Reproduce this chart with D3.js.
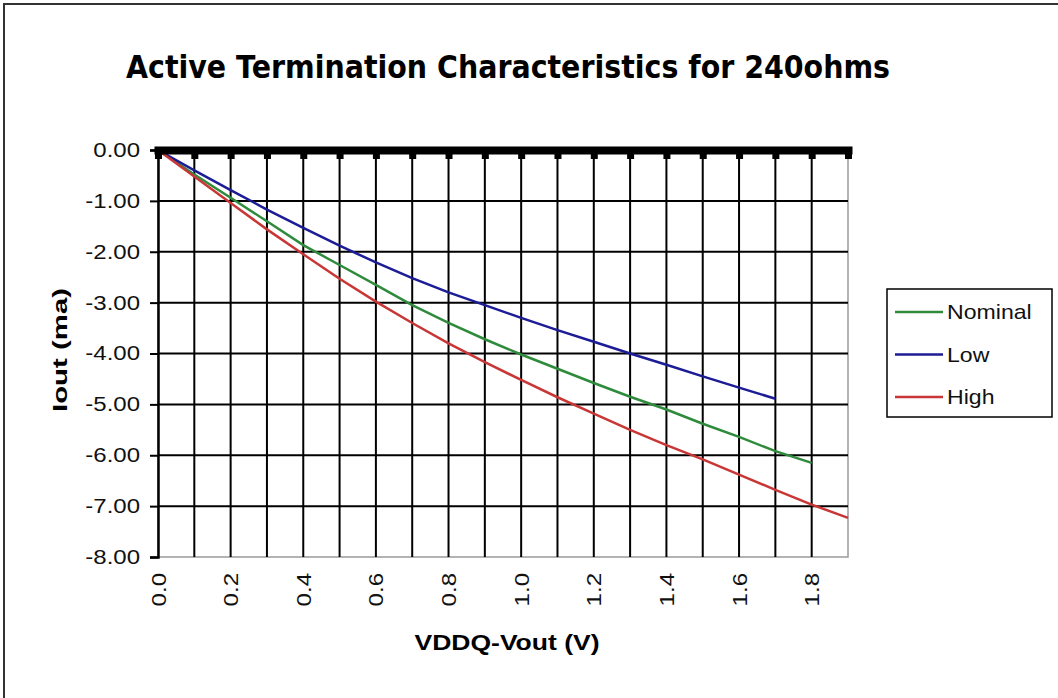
<!DOCTYPE html>
<html>
<head>
<meta charset="utf-8">
<script src="https://cdn.jsdelivr.net/npm/d3@7"></script>
<style>
  body{margin:0;background:#fff;}
  text{font-family:"Liberation Sans", Arial, sans-serif;}
</style>
</head>
<body>
<svg id="chart" width="1058" height="698"></svg>
<script>
// categories (VDDQ-Vout in volts)
const voltages = [0.0, 0.1, 0.2, 0.3, 0.4, 0.5, 0.6, 0.7, 0.8, 0.9,
                  1.0, 1.1, 1.2, 1.3, 1.4, 1.5, 1.6, 1.7, 1.8, 1.9];
// Iout (ma) per series
const nominal = [0, -0.48, -0.94, -1.40, -1.87, -2.26, -2.65, -3.05, -3.40, -3.72,
                 -4.02, -4.30, -4.58, -4.85, -5.10, -5.38, -5.64, -5.92, -6.15];
const low = [0, -0.40, -0.79, -1.17, -1.53, -1.88, -2.21, -2.52, -2.80, -3.05,
             -3.30, -3.54, -3.77, -4.00, -4.22, -4.45, -4.67, -4.89];
const high = [0, -0.52, -1.04, -1.56, -2.05, -2.53, -2.98, -3.40, -3.80, -4.17,
              -4.52, -4.86, -5.18, -5.50, -5.80, -6.08, -6.38, -6.68, -6.97, -7.23];
const xTickLabels = [0.0, 0.2, 0.4, 0.6, 0.8, 1.0, 1.2, 1.4, 1.6, 1.8];
const yTicks = [0, -1, -2, -3, -4, -5, -6, -7, -8];
const seriesNames = ['Nominal', 'Low', 'High'];
const seriesColors = ['#2f8b3c', '#1c1c96', '#c93636'];

const svg = d3.select('#chart');
const plot = {left: 158, right: 848, top: 150, bottom: 557};

let x = d3.scaleLinear()
          .domain([0, 1.9])
          .range([plot.left, plot.right]);
let y = d3.scaleLinear()
          .domain([0, -8])
          .range([plot.top, plot.bottom]);

// stretch text sideways, the source fonts render wider than Liberation
function stretch(sel, k){
  sel.each(function(){
    let w = this.getComputedTextLength();
    d3.select(this)
      .attr('textLength', w*k)
      .attr('lengthAdjust', 'spacingAndGlyphs');
  });
}

// outer frame
svg.append('rect')
   .attr('x', 4).attr('y', 4)
   .attr('width', 1100).attr('height', 800)
   .attr('fill', 'none')
   .attr('stroke', '#333')
   .attr('stroke-width', 2);

// title
svg.append('text')
   .attr('x', 126)
   .attr('y', 78)
   .style('font-family', '"DejaVu Sans", Verdana, sans-serif')
   .attr('font-weight', 'bold')
   .attr('font-size', '32px')
   .attr('textLength', 764)
   .attr('lengthAdjust', 'spacingAndGlyphs')
   .text('Active Termination Characteristics for 240ohms');

// plot border
svg.append('rect')
   .attr('x', plot.left).attr('y', plot.top)
   .attr('width', plot.right - plot.left)
   .attr('height', plot.bottom - plot.top)
   .attr('fill', 'none')
   .attr('stroke', '#9a9a9a')
   .attr('stroke-width', 1.5);

// grid
svg.append('g')
   .selectAll('line')
   .data(voltages.filter(v => v > 0 && v < 1.9))
   .enter()
   .append('line')
   .attr('x1', d => x(d)).attr('x2', d => x(d))
   .attr('y1', plot.top).attr('y2', plot.bottom)
   .attr('stroke', '#000')
   .attr('stroke-width', 2);
svg.append('g')
   .selectAll('line')
   .data(yTicks.filter(v => v < 0 && v > -8))
   .enter()
   .append('line')
   .attr('x1', plot.left).attr('x2', plot.right)
   .attr('y1', d => y(d)).attr('y2', d => y(d))
   .attr('stroke', '#000')
   .attr('stroke-width', 2);

// series
const seriesData = [nominal, low, high];
let lineFunction = d3.line()
                     .x((d, i) => x(voltages[i]))
                     .y(d => y(d));
seriesData.forEach((data, k) => {
  svg.append('path')
     .attr('d', lineFunction(data))
     .attr('fill', 'none')
     .attr('stroke', seriesColors[k])
     .attr('stroke-width', 2.5);
});

// y axis
let yAxis = svg.append('g')
               .attr('transform', `translate(${plot.left},0)`)
               .call(d3.axisLeft(y)
                       .tickValues(yTicks)
                       .tickSize(8)
                       .tickPadding(10)
                       .tickFormat(d => d.toFixed(2)));
yAxis.attr('font-family', null);
yAxis.select('.domain').attr('stroke', '#000').attr('stroke-width', 2.5);
yAxis.selectAll('.tick line').attr('stroke', '#000').attr('stroke-width', 2);
yAxis.selectAll('text')
     .attr('font-size', '20px')
     .attr('fill', '#111')
     .call(stretch, 1.2);

// x axis drawn as a thick bar across the top (crosses at 0)
let xAxis = svg.append('g')
               .attr('transform', `translate(0,${plot.top})`)
               .call(d3.axisBottom(x)
                       .tickValues(voltages)
                       .tickSize(9)
                       .tickSizeOuter(0)
                       .tickFormat(''));
xAxis.select('.domain')
     .attr('stroke', '#000')
     .attr('stroke-width', 8)
     .attr('stroke-linecap', 'square');
xAxis.selectAll('.tick line').attr('stroke', '#000').attr('stroke-width', 7);

// x tick labels along the bottom, rotated
let xLabels = svg.append('g')
                 .attr('transform', `translate(0,${plot.bottom})`)
                 .call(d3.axisBottom(x)
                         .tickValues(xTickLabels)
                         .tickSize(0)
                         .tickFormat(d => d.toFixed(1)));
xLabels.select('.domain').remove();
xLabels.attr('font-family', null);
xLabels.selectAll('text')
       .attr('font-size', '20px')
       .attr('fill', '#111')
       .attr('transform', 'rotate(-90)')
       .attr('text-anchor', 'end')
       .attr('x', -16)
       .attr('y', 0)
       .attr('dy', '0.35em')
       .call(stretch, 1.2);

// axis titles
svg.append('text')
   .attr('x', 507)
   .attr('y', 650)
   .attr('text-anchor', 'middle')
   .attr('font-weight', 'bold')
   .attr('font-size', '22px')
   .attr('textLength', 185)
   .attr('lengthAdjust', 'spacingAndGlyphs')
   .text('VDDQ-Vout (V)');
svg.append('text')
   .attr('transform', 'translate(60,350) rotate(-90)')
   .attr('text-anchor', 'middle')
   .attr('dy', '0.35em')
   .attr('font-weight', 'bold')
   .attr('font-size', '21px')
   .attr('textLength', 124)
   .attr('lengthAdjust', 'spacingAndGlyphs')
   .text('Iout (ma)');

// legend
let legend = svg.append('g');
legend.append('rect')
      .attr('x', 887).attr('y', 289)
      .attr('width', 165).attr('height', 128)
      .attr('fill', '#fff')
      .attr('stroke', '#000')
      .attr('stroke-width', 1.5);
let legendY = d3.scalePoint()
                .domain(seriesNames)
                .range([312, 397]);
seriesNames.forEach((name, k) => {
  legend.append('line')
        .attr('x1', 895).attr('x2', 943)
        .attr('y1', legendY(name)).attr('y2', legendY(name))
        .attr('stroke', seriesColors[k])
        .attr('stroke-width', 2.5);
  legend.append('text')
        .attr('x', 947)
        .attr('y', legendY(name))
        .attr('dy', '0.35em')
        .attr('font-size', '21px')
        .attr('fill', '#111')
        .text(name)
        .call(stretch, 1.1);
});
</script>
</body>
</html>
